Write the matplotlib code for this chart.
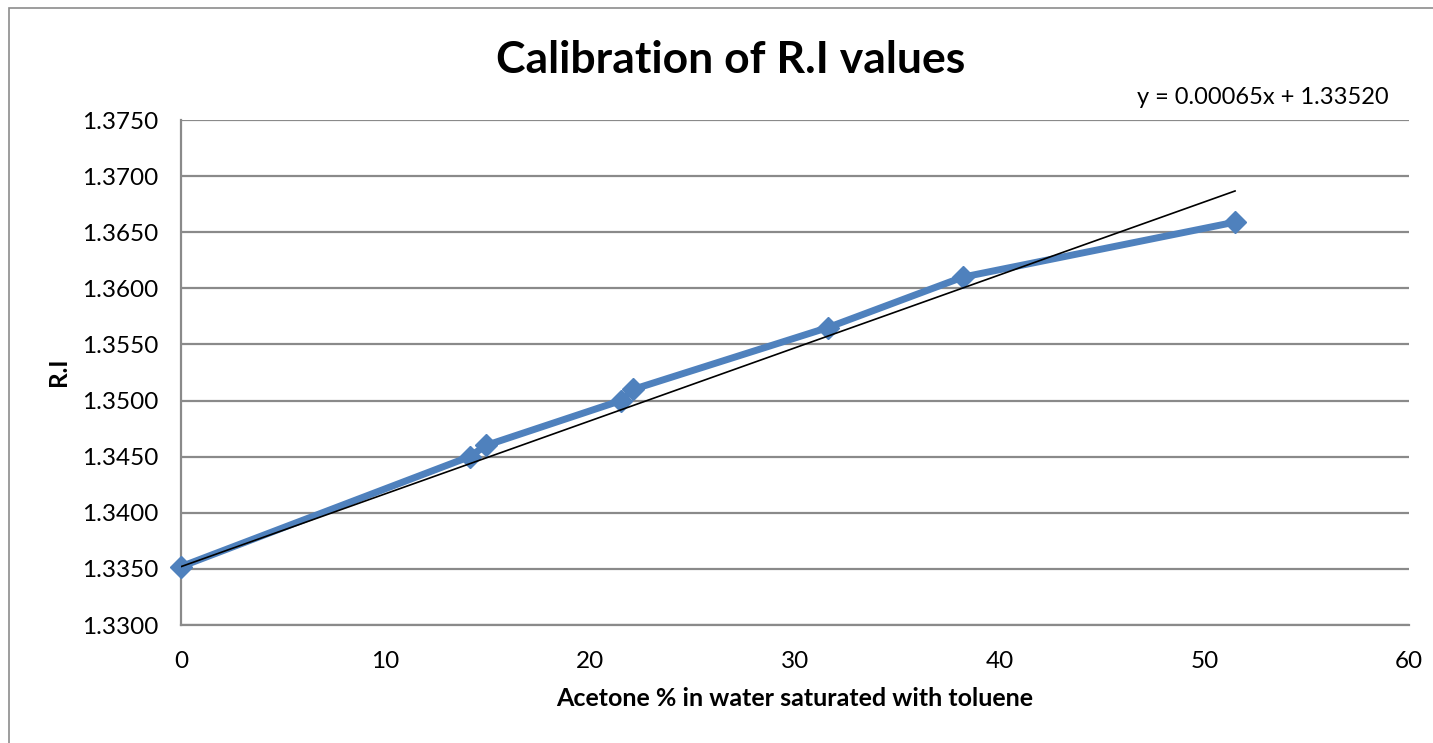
import numpy as np
import matplotlib
matplotlib.use("Agg")
import matplotlib.pyplot as plt
from matplotlib.patches import Rectangle

# acetone % vs refractive index readings
acetone_pct = [0.0, 14.1, 14.9, 21.5, 22.1, 31.6, 38.2, 51.5]
ri_values = [1.3352, 1.3450, 1.3460, 1.3500, 1.3510, 1.3565, 1.3610, 1.3659]

slope = 0.00065
intercept = 1.33520

x_ticks = [0, 10, 20, 30, 40, 50, 60]
y_ticks = [1.3300, 1.3350, 1.3400, 1.3450, 1.3500, 1.3550, 1.3600, 1.3650, 1.3700, 1.3750]

plt.rcParams["font.family"] = ["Lato", "DejaVu Sans"]

W, H = 1433, 743
fig = plt.figure(figsize=(W / 100, H / 100), dpi=100)
fig.patches.append(Rectangle((9 / W, -0.1), 1.2, 1 - 8 / H + 0.1, transform=fig.transFigure,
                             fill=False, edgecolor="#8c8c8c", linewidth=1.2))

ax = fig.add_axes([181 / W, 1 - 625 / H, (1409 - 181) / W, (625 - 120) / H])
ax.set_xlim(0, 60)
ax.set_ylim(1.3300, 1.3750)
ax.set_xticks(x_ticks)
ax.set_yticks(y_ticks)
ax.set_yticklabels([f"{v:.4f}" for v in y_ticks])
ax.tick_params(length=0, labelsize=17.5, colors="black")
ax.tick_params(axis="x", pad=19)
ax.tick_params(axis="y", pad=16)

ax.grid(axis="y", color="#8a8a8a", linewidth=1.6)
ax.set_axisbelow(True)
for s in ("top", "right"):
    ax.spines[s].set_visible(False)
for s in ("left", "bottom"):
    ax.spines[s].set_color("#8a8a8a")
    ax.spines[s].set_linewidth(1.6)

ax.plot(acetone_pct, ri_values, color="#4F81BD", linewidth=5, marker="D",
        markersize=11.5, markeredgecolor="#4F81BD", zorder=3, clip_on=False)

xt = np.array([min(acetone_pct), max(acetone_pct)])
ax.plot(xt, slope * xt + intercept, color="black", linewidth=1.2, zorder=4)

# axis titles placed like the Excel chart
fig.text(795 / W, 1 - 699 / H, "Acetone % in water saturated with toluene", fontsize=18,
         fontweight="bold", ha="center", va="center")
fig.text(59 / W, 1 - 372 / H, "R.I", fontsize=17.5, fontweight="bold", rotation=90,
         ha="center", va="center")

fig.text(731 / W, 1 - 60 / H, "Calibration of R.I values", fontsize=32, fontweight="bold",
         ha="center", va="center")
fig.text(1263 / W, 1 - 97 / H, f"y = {slope:.5f}x + {intercept:.5f}", fontsize=17,
         ha="center", va="center")

fig.savefig("out.png", dpi=100)
